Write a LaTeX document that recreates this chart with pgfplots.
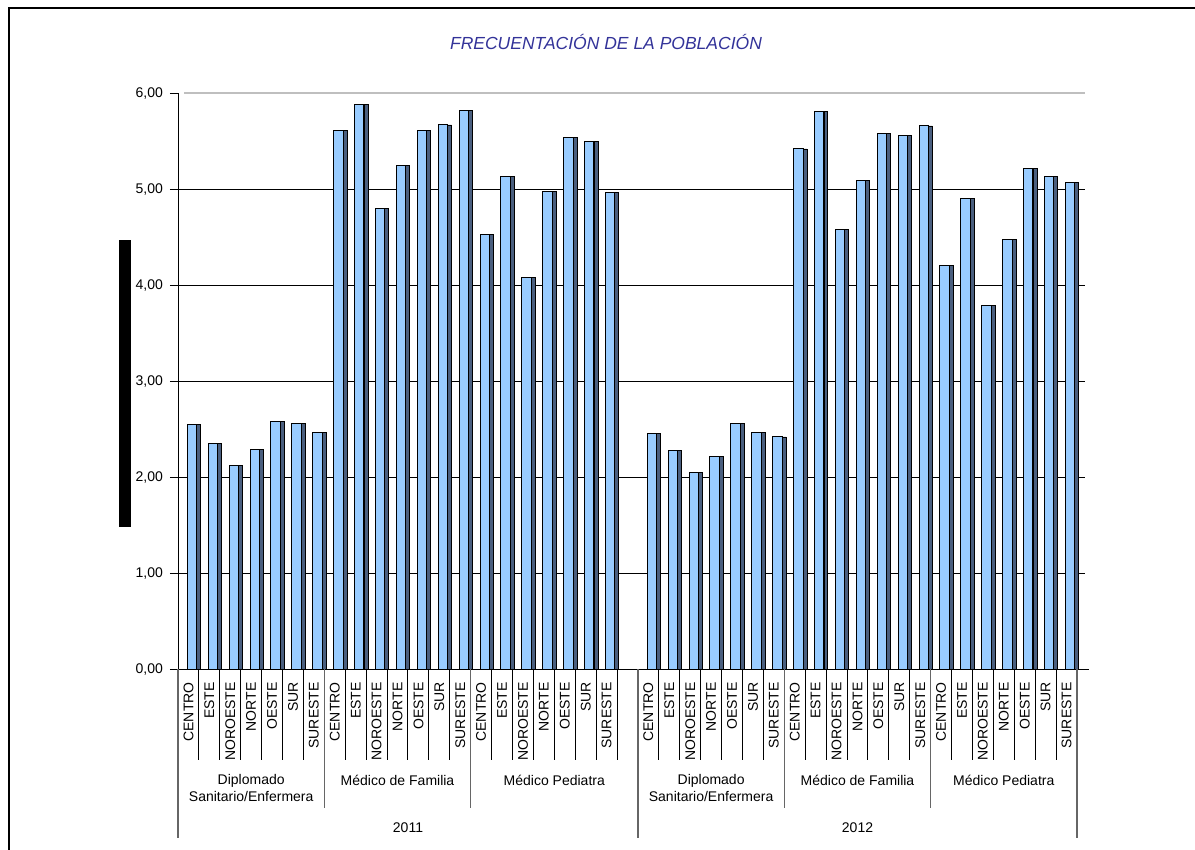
\documentclass[border=0pt]{standalone}
\usepackage{fontspec}
\setmainfont{Liberation Sans}
\usepackage{pgfplots}
\usepackage{pgfplotstable}
\pgfplotsset{compat=1.18}
\definecolor{barfront}{HTML}{99CCFF}
\definecolor{barside}{HTML}{4A5F7F}
\definecolor{titleblue}{HTML}{333399}
\pgfplotstableread{
x y
0.5 2.55
1.5 2.35
2.5 2.12
3.5 2.29
4.5 2.58
5.5 2.56
6.5 2.47
7.5 5.61
8.5 5.88
9.5 4.80
10.5 5.25
11.5 5.61
12.5 5.67
13.5 5.82
14.5 4.53
15.5 5.13
16.5 4.08
17.5 4.98
18.5 5.54
19.5 5.50
20.5 4.97
22.5 2.46
23.5 2.28
24.5 2.05
25.5 2.22
26.5 2.56
27.5 2.47
28.5 2.42
29.5 5.42
30.5 5.81
31.5 4.58
32.5 5.09
33.5 5.58
34.5 5.56
35.5 5.66
36.5 4.21
37.5 4.90
38.5 3.79
39.5 4.48
40.5 5.22
41.5 5.13
42.5 5.07
}\datatable
\begin{document}
\begin{tikzpicture}[x=0.5pt,y=0.5pt]
\path[use as bounding box] (0,0) rectangle (1195,850);
\begin{axis}[
  at={(89pt,90.35pt)}, anchor=south west,
  scale only axis, width=449.5pt, height=288pt,
  xmin=0, xmax=43, ymin=0, ymax=6,
  axis x line=none, axis y line*=left,
  axis line style={-, black, line width=0.5pt},
  ytick={0,1,2,3,4,5,6},
  tick align=outside, major tick length=4pt,
  ytick style={black, line width=0.5pt},
  yticklabel={\pgfmathprintnumber[fixed,fixed zerofill,precision=2,use comma,assume math mode=true]{\tick}},
  yticklabel style={font=\fontsize{7}{8}\selectfont, black},
  clip=false]
\pgfplotsinvokeforeach{1,2,3,4,5}{
  \draw[black, line width=0.5pt] (axis cs:0,#1) -- (axis cs:43.4,#1);
}
\draw[black!25, line width=0.8pt] (axis cs:0.3,6) -- (axis cs:43.4,6);
\addplot[ybar, bar width=0.19, bar shift=0.49, fill=barside, draw=black, line width=0.4pt] table[x=x,y=y]{\datatable};
\addplot[ybar, bar width=0.45, bar shift=0.17, fill=barfront, draw=black, line width=0.5pt] table[x=x,y=y]{\datatable};
\draw[black, line width=0.5pt] (axis cs:0,0) -- (axis cs:43.57,0);
\end{axis}
% title
\node[font=\fontsize{8.75}{10}\selectfont\itshape, text=titleblue] at (606,808) {FRECUENTACIÓN DE LA POBLACIÓN};
% black block (axis title artefact)
\fill[black] (119,323) rectangle (131,610);
% frame
\draw[line width=1pt] (9,-5) -- (9,842) -- (1200,842);
% region labels
\foreach \s in {0,7,14,22,29,36} {
  \foreach \n [count=\i from 0] in {CENTRO,ESTE,NOROESTE,NORTE,OESTE,SUR,SURESTE} {
    \node[rotate=90, anchor=east, inner sep=0pt, font=\fontsize{7}{8}\selectfont] at ({178+(\s+\i+0.5)*20.907},168) {\n};
  }
}
% separator lines
\foreach \k in {1,2,3,4,5,6,8,9,10,11,12,13,15,16,17,18,19,20,21,23,24,25,26,27,28,30,31,32,33,34,35,37,38,39,40,41,42} {
  \draw[black, line width=0.5pt] ({178+\k*20.907},181) -- ({178+\k*20.907},90);
}
\foreach \k in {7,14,29,36} {
  \draw[black!60, line width=0.6pt] ({178+\k*20.907},181) -- ({178+\k*20.907},42);
}
\foreach \k in {0,22,43} {
  \draw[black!60, line width=0.6pt] ({178+\k*20.907},181) -- ({178+\k*20.907},12);
}
% group labels
\begin{scope}[every node/.style={font=\fontsize{7}{8.5}\selectfont, align=center}]
\node at (251.2,61.5) {Diplomado\\Sanitario/Enfermera};
\node at (397.5,70) {Médico de Familia};
\node at (554.3,70) {Médico Pediatra};
\node at (711.1,61.5) {Diplomado\\Sanitario/Enfermera};
\node at (857.5,70) {Médico de Familia};
\node at (1003.8,70) {Médico Pediatra};
\node at (408,22) {2011};
\node at (857.5,22) {2012};
\end{scope}
\end{tikzpicture}
\end{document}
